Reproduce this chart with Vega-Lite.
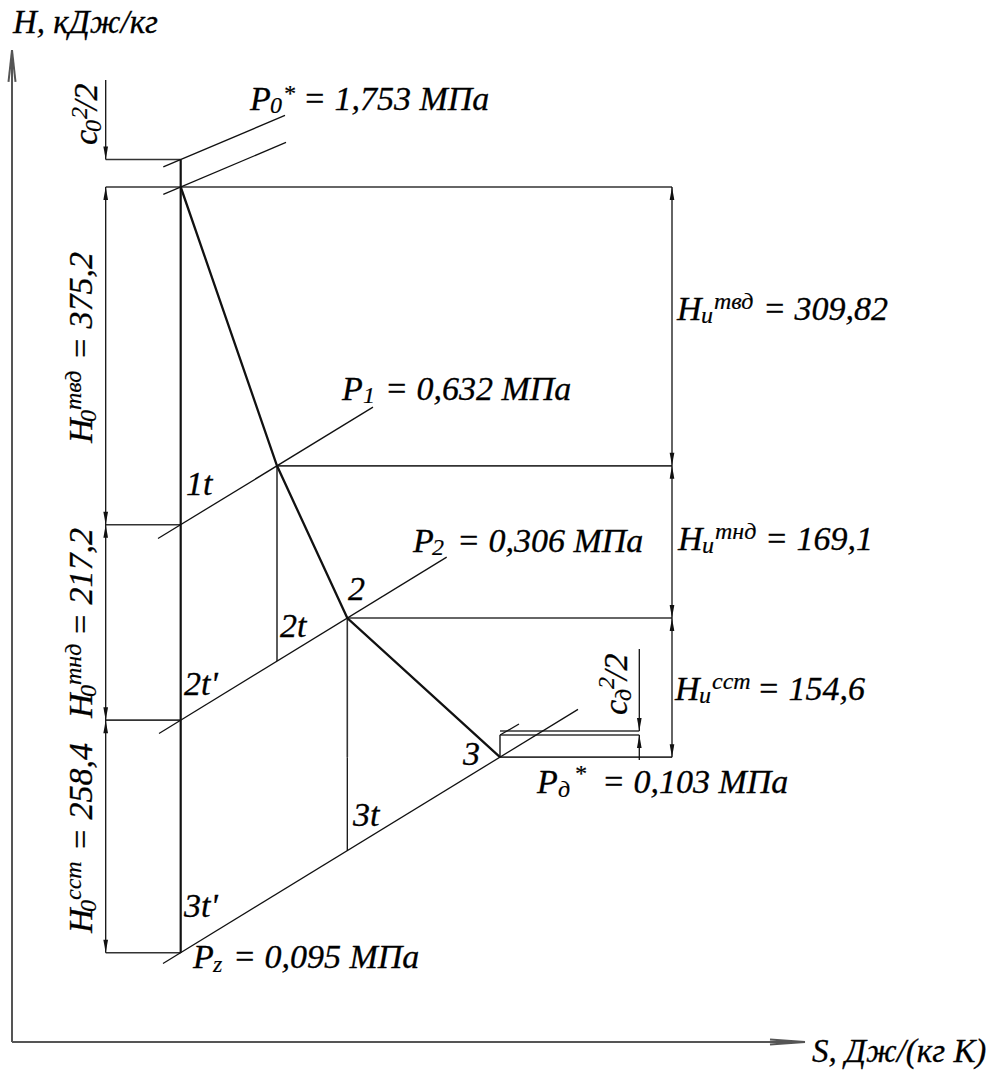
{
  "$schema": "https://vega.github.io/schema/vega-lite/v6.json",
  "width": 998,
  "height": 1075,
  "autosize": {"type": "none"},
  "padding": 0,
  "background": "white",
  "config": {"view": {"stroke": null}},
  "datasets": {
    "segments": [
      {"from_s": 0, "from_h": 0, "to_s": 0, "to_h": 1102.2, "kind": "axis"},
      {"from_s": 0, "from_h": 0, "to_s": 7.93, "to_h": 0, "kind": "axis"},
      {"from_s": -0.035, "from_h": 1066.7, "to_s": 0, "to_h": 1102.2, "kind": "axis"},
      {"from_s": 0.035, "from_h": 1066.7, "to_s": 0, "to_h": 1102.2, "kind": "axis"},
      {"from_s": 7.58, "from_h": 2.8, "to_s": 7.93, "to_h": 0, "kind": "axis"},
      {"from_s": 7.58, "from_h": -2.8, "to_s": 7.93, "to_h": 0, "kind": "axis"},
      {"from_s": 1.687, "from_h": 980.5, "to_s": 1.687, "to_h": 99.2, "kind": "isentrope"},
      {"from_s": 1.513, "from_h": 972.3, "to_s": 2.73, "to_h": 1029.5, "kind": "isobar"},
      {"from_s": 1.513, "from_h": 941.8, "to_s": 2.74, "to_h": 999.5, "kind": "isobar"},
      {"from_s": 1.46, "from_h": 559.4, "to_s": 3.61, "to_h": 705.4, "kind": "isobar"},
      {"from_s": 1.47, "from_h": 342.8, "to_s": 4.347, "to_h": 538.8, "kind": "isobar"},
      {"from_s": 1.51, "from_h": 87.2, "to_s": 5.66, "to_h": 369.6, "kind": "isobar"},
      {"from_s": 4.88, "from_h": 341.1, "to_s": 5.07, "to_h": 353.3, "kind": "isobar"},
      {"from_s": 0.937, "from_h": 980.5, "to_s": 1.687, "to_h": 980.5, "kind": "guide"},
      {"from_s": 0.937, "from_h": 950, "to_s": 6.6, "to_h": 950, "kind": "guide"},
      {"from_s": 0.937, "from_h": 574.8, "to_s": 1.687, "to_h": 574.8, "kind": "guide"},
      {"from_s": 0.937, "from_h": 357.6, "to_s": 1.687, "to_h": 357.6, "kind": "guide"},
      {"from_s": 0.937, "from_h": 99.2, "to_s": 1.687, "to_h": 99.2, "kind": "guide"},
      {"from_s": 2.65, "from_h": 640.18, "to_s": 6.6, "to_h": 640.18, "kind": "guide"},
      {"from_s": 3.353, "from_h": 471.08, "to_s": 6.6, "to_h": 471.08, "kind": "guide"},
      {"from_s": 4.88, "from_h": 316.48, "to_s": 6.6, "to_h": 316.48, "kind": "guide"},
      {"from_s": 4.88, "from_h": 345.6, "to_s": 6.273, "to_h": 345.6, "kind": "guide"},
      {"from_s": 4.88, "from_h": 341.1, "to_s": 6.273, "to_h": 341.1, "kind": "guide"},
      {"from_s": 4.88, "from_h": 316.48, "to_s": 4.88, "to_h": 341.1, "kind": "guide"},
      {"from_s": 2.65, "from_h": 640.18, "to_s": 2.65, "to_h": 423.2, "kind": "guide"},
      {"from_s": 3.353, "from_h": 471.08, "to_s": 3.353, "to_h": 316.48, "kind": "guide"},
      {"from_s": 3.353, "from_h": 316.48, "to_s": 3.353, "to_h": 212.6, "kind": "isobar"},
      {"from_s": 0.937, "from_h": 1068.9, "to_s": 0.937, "to_h": 980.5, "kind": "dimension"},
      {"from_s": 0.937, "from_h": 950, "to_s": 0.937, "to_h": 99.2, "kind": "dimension"},
      {"from_s": 6.6, "from_h": 950, "to_s": 6.6, "to_h": 316.48, "kind": "dimension"},
      {"from_s": 6.273, "from_h": 436.7, "to_s": 6.273, "to_h": 345.6, "kind": "dimension"},
      {"from_s": 6.273, "from_h": 313.3, "to_s": 6.273, "to_h": 341.1, "kind": "dimension"}
    ],
    "process": [
      {"step": 0, "point": "0", "s": 1.687, "h": 950},
      {"step": 1, "point": "1", "s": 2.65, "h": 640.18},
      {"step": 2, "point": "2", "s": 3.353, "h": 471.08},
      {"step": 3, "point": "3", "s": 4.88, "h": 316.48}
    ],
    "arrowheads": [
      {"s": 0.937, "h": 980.5, "dir": "down"},
      {"s": 0.937, "h": 574.8, "dir": "down"},
      {"s": 0.937, "h": 357.6, "dir": "down"},
      {"s": 0.937, "h": 99.2, "dir": "down"},
      {"s": 6.6, "h": 640.18, "dir": "down"},
      {"s": 6.6, "h": 471.08, "dir": "down"},
      {"s": 6.6, "h": 316.48, "dir": "down"},
      {"s": 6.273, "h": 345.6, "dir": "down"},
      {"s": 0.937, "h": 950, "dir": "up"},
      {"s": 0.937, "h": 574.8, "dir": "up"},
      {"s": 0.937, "h": 357.6, "dir": "up"},
      {"s": 6.6, "h": 950, "dir": "up"},
      {"s": 6.6, "h": 640.18, "dir": "up"},
      {"s": 6.6, "h": 471.08, "dir": "up"},
      {"s": 6.273, "h": 341.1, "dir": "up"}
    ],
    "titles": [
      {"text": "H, кДж/кг", "s": 0.01, "h": 1121.1},
      {"text": "S, Дж/(кг К)", "s": 8.0, "h": -22.2}
    ],
    "labels": [
      {"text": "P", "s": 2.38, "h": 1035.6},
      {"text": "= 1,753 МПа", "s": 2.91, "h": 1035.6},
      {"text": "P", "s": 3.3, "h": 713.3},
      {"text": "= 0,632 МПа", "s": 3.73, "h": 713.3},
      {"text": "P", "s": 4.01, "h": 544.4},
      {"text": "= 0,306 МПа", "s": 4.45, "h": 544.4},
      {"text": "P", "s": 1.81, "h": 82.2},
      {"text": "= 0,095 МПа", "s": 2.21, "h": 82.2},
      {"text": "P", "s": 5.25, "h": 276.7},
      {"text": "= 0,103 МПа", "s": 5.9, "h": 276.7},
      {"text": "H", "s": 6.65, "h": 802.2},
      {"text": "= 309,82", "s": 7.51, "h": 802.2},
      {"text": "H", "s": 6.66, "h": 546.7},
      {"text": "= 169,1", "s": 7.53, "h": 546.7},
      {"text": "H", "s": 6.63, "h": 380.0},
      {"text": "= 154,6", "s": 7.45, "h": 380.0},
      {"text": "1t", "s": 1.74, "h": 607.8},
      {"text": "2", "s": 3.36, "h": 491.1},
      {"text": "2t", "s": 2.68, "h": 450.0},
      {"text": "2t'", "s": 1.72, "h": 385.6},
      {"text": "3", "s": 4.51, "h": 307.8},
      {"text": "3t", "s": 3.41, "h": 240.0},
      {"text": "3t'", "s": 1.72, "h": 138.9}
    ],
    "indices": [
      {"text": "0", "s": 2.58, "h": 1032.2},
      {"text": "*", "s": 2.71, "h": 1045.6},
      {"text": "1", "s": 3.51, "h": 710.0},
      {"text": "2", "s": 4.2, "h": 541.1},
      {"text": "z", "s": 2.01, "h": 77.8},
      {"text": "д", "s": 5.46, "h": 272.2},
      {"text": "*", "s": 5.62, "h": 290.0},
      {"text": "и", "s": 6.89, "h": 798.9},
      {"text": "твд", "s": 7.02, "h": 814.4},
      {"text": "и", "s": 6.9, "h": 543.3},
      {"text": "тнд", "s": 7.03, "h": 558.9},
      {"text": "и", "s": 6.87, "h": 376.7},
      {"text": "сст", "s": 7.0, "h": 392.2}
    ],
    "verticalLabels": [
      {"text": "H", "s": 0.8, "h": 665.6},
      {"text": "= 375,2", "s": 0.8, "h": 757.8},
      {"text": "H", "s": 0.8, "h": 360.0},
      {"text": "= 217,2", "s": 0.8, "h": 451.1},
      {"text": "H", "s": 0.8, "h": 121.1},
      {"text": "= 258,4", "s": 0.8, "h": 212.2},
      {"text": "c", "s": 0.85, "h": 996.7},
      {"text": "/2", "s": 0.85, "h": 1035.6},
      {"text": "c", "s": 6.15, "h": 363.3},
      {"text": "/2", "s": 6.15, "h": 402.2}
    ],
    "verticalIndices": [
      {"text": "0", "s": 0.84, "h": 688.9},
      {"text": "твд", "s": 0.69, "h": 702.2},
      {"text": "0", "s": 0.84, "h": 383.3},
      {"text": "тнд", "s": 0.69, "h": 396.7},
      {"text": "0", "s": 0.84, "h": 144.4},
      {"text": "сст", "s": 0.69, "h": 157.8},
      {"text": "0", "s": 0.89, "h": 1011.1},
      {"text": "2", "s": 0.75, "h": 1025.6},
      {"text": "д", "s": 6.19, "h": 378.9},
      {"text": "2", "s": 6.02, "h": 392.2}
    ]
  },
  "layer": [
    {
      "data": {"name": "segments"},
      "transform": [{"filter": "datum.kind === 'axis'"}],
      "mark": {"type": "rule", "color": "#555555", "strokeWidth": 2},
      "encoding": {
        "x": {"field": "from_s", "type": "quantitative", "scale": {"domain": [-0.12, 9.86], "nice": false, "zero": false}, "axis": null},
        "y": {"field": "from_h", "type": "quantitative", "scale": {"domain": [-36.667, 1157.778], "nice": false, "zero": false}, "axis": null},
        "x2": {"field": "to_s"},
        "y2": {"field": "to_h"}
      }
    },
    {
      "data": {"name": "segments"},
      "transform": [{"filter": "datum.kind === 'guide'"}],
      "mark": {"type": "rule", "color": "#333333", "strokeWidth": 1.6},
      "encoding": {
        "x": {"field": "from_s", "type": "quantitative", "scale": {"domain": [-0.12, 9.86], "nice": false, "zero": false}, "axis": null},
        "y": {"field": "from_h", "type": "quantitative", "scale": {"domain": [-36.667, 1157.778], "nice": false, "zero": false}, "axis": null},
        "x2": {"field": "to_s"},
        "y2": {"field": "to_h"}
      }
    },
    {
      "data": {"name": "segments"},
      "transform": [{"filter": "datum.kind === 'isobar' || datum.kind === 'dimension'"}],
      "mark": {"type": "rule", "color": "#111111", "strokeWidth": 1.3},
      "encoding": {
        "x": {"field": "from_s", "type": "quantitative", "scale": {"domain": [-0.12, 9.86], "nice": false, "zero": false}, "axis": null},
        "y": {"field": "from_h", "type": "quantitative", "scale": {"domain": [-36.667, 1157.778], "nice": false, "zero": false}, "axis": null},
        "x2": {"field": "to_s"},
        "y2": {"field": "to_h"}
      }
    },
    {
      "data": {"name": "segments"},
      "transform": [{"filter": "datum.kind === 'isentrope'"}],
      "mark": {"type": "rule", "color": "#111111", "strokeWidth": 2.2},
      "encoding": {
        "x": {"field": "from_s", "type": "quantitative", "scale": {"domain": [-0.12, 9.86], "nice": false, "zero": false}, "axis": null},
        "y": {"field": "from_h", "type": "quantitative", "scale": {"domain": [-36.667, 1157.778], "nice": false, "zero": false}, "axis": null},
        "x2": {"field": "to_s"},
        "y2": {"field": "to_h"}
      }
    },
    {
      "data": {"name": "process"},
      "mark": {"type": "line", "color": "#111111", "strokeWidth": 2.3},
      "encoding": {
        "x": {"field": "s", "type": "quantitative", "scale": {"domain": [-0.12, 9.86], "nice": false, "zero": false}, "axis": null},
        "y": {"field": "h", "type": "quantitative", "scale": {"domain": [-36.667, 1157.778], "nice": false, "zero": false}, "axis": null},
        "order": {"field": "step", "type": "quantitative"}
      }
    },
    {
      "data": {"name": "arrowheads"},
      "transform": [{"filter": "datum.dir === 'down'"}],
      "mark": {"type": "point", "shape": "M0,0L-0.36,-2L0.36,-2Z", "filled": true, "size": 169, "color": "#111111", "opacity": 1},
      "encoding": {
        "x": {"field": "s", "type": "quantitative", "scale": {"domain": [-0.12, 9.86], "nice": false, "zero": false}, "axis": null},
        "y": {"field": "h", "type": "quantitative", "scale": {"domain": [-36.667, 1157.778], "nice": false, "zero": false}, "axis": null}
      }
    },
    {
      "data": {"name": "arrowheads"},
      "transform": [{"filter": "datum.dir === 'up'"}],
      "mark": {"type": "point", "shape": "M0,0L-0.36,2L0.36,2Z", "filled": true, "size": 169, "color": "#111111", "opacity": 1},
      "encoding": {
        "x": {"field": "s", "type": "quantitative", "scale": {"domain": [-0.12, 9.86], "nice": false, "zero": false}, "axis": null},
        "y": {"field": "h", "type": "quantitative", "scale": {"domain": [-36.667, 1157.778], "nice": false, "zero": false}, "axis": null}
      }
    },
    {
      "data": {"name": "titles"},
      "mark": {"type": "text", "font": "Liberation Serif", "fontStyle": "italic", "fontSize": 33, "align": "left", "baseline": "alphabetic", "color": "black", "stroke": "black", "strokeWidth": 0.3},
      "encoding": {
        "x": {"field": "s", "type": "quantitative", "scale": {"domain": [-0.12, 9.86], "nice": false, "zero": false}, "axis": null},
        "y": {"field": "h", "type": "quantitative", "scale": {"domain": [-36.667, 1157.778], "nice": false, "zero": false}, "axis": null},
        "text": {"field": "text"}
      }
    },
    {
      "data": {"name": "labels"},
      "mark": {"type": "text", "font": "Liberation Serif", "fontStyle": "italic", "fontSize": 34, "align": "left", "baseline": "alphabetic", "color": "black", "stroke": "black", "strokeWidth": 0.3},
      "encoding": {
        "x": {"field": "s", "type": "quantitative", "scale": {"domain": [-0.12, 9.86], "nice": false, "zero": false}, "axis": null},
        "y": {"field": "h", "type": "quantitative", "scale": {"domain": [-36.667, 1157.778], "nice": false, "zero": false}, "axis": null},
        "text": {"field": "text"}
      }
    },
    {
      "data": {"name": "indices"},
      "mark": {"type": "text", "font": "Liberation Serif", "fontStyle": "italic", "fontSize": 24, "align": "left", "baseline": "alphabetic", "color": "black", "stroke": "black", "strokeWidth": 0.2},
      "encoding": {
        "x": {"field": "s", "type": "quantitative", "scale": {"domain": [-0.12, 9.86], "nice": false, "zero": false}, "axis": null},
        "y": {"field": "h", "type": "quantitative", "scale": {"domain": [-36.667, 1157.778], "nice": false, "zero": false}, "axis": null},
        "text": {"field": "text"}
      }
    },
    {
      "data": {"name": "verticalLabels"},
      "mark": {"type": "text", "font": "Liberation Serif", "fontStyle": "italic", "fontSize": 34, "angle": 270, "align": "left", "baseline": "alphabetic", "color": "black", "stroke": "black", "strokeWidth": 0.3},
      "encoding": {
        "x": {"field": "s", "type": "quantitative", "scale": {"domain": [-0.12, 9.86], "nice": false, "zero": false}, "axis": null},
        "y": {"field": "h", "type": "quantitative", "scale": {"domain": [-36.667, 1157.778], "nice": false, "zero": false}, "axis": null},
        "text": {"field": "text"}
      }
    },
    {
      "data": {"name": "verticalIndices"},
      "mark": {"type": "text", "font": "Liberation Serif", "fontStyle": "italic", "fontSize": 24, "angle": 270, "align": "left", "baseline": "alphabetic", "color": "black", "stroke": "black", "strokeWidth": 0.2},
      "encoding": {
        "x": {"field": "s", "type": "quantitative", "scale": {"domain": [-0.12, 9.86], "nice": false, "zero": false}, "axis": null},
        "y": {"field": "h", "type": "quantitative", "scale": {"domain": [-36.667, 1157.778], "nice": false, "zero": false}, "axis": null},
        "text": {"field": "text"}
      }
    }
  ]
}
